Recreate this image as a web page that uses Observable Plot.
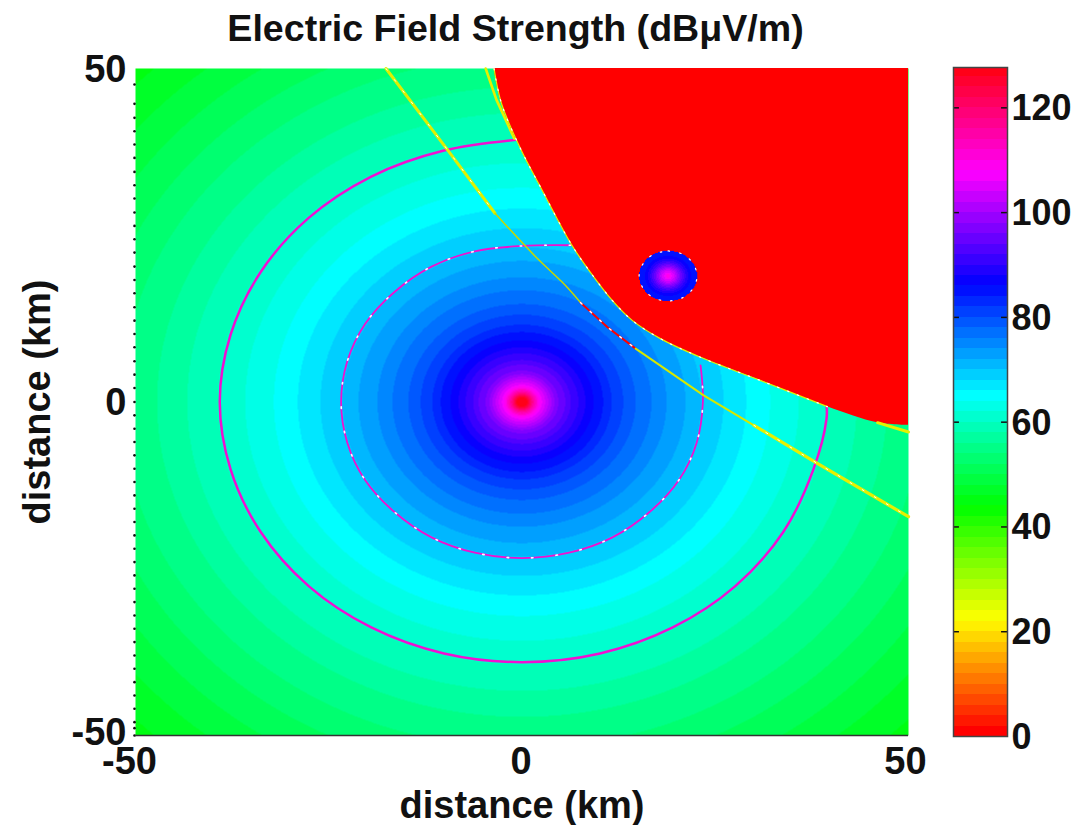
<!DOCTYPE html>
<html>
<head>
<meta charset="utf-8">
<script src="https://cdn.jsdelivr.net/npm/d3@7"></script>
<script src="https://cdn.jsdelivr.net/npm/@observablehq/plot@0.6"></script>
<style>
  html, body { margin: 0; padding: 0; background: #fff; }
  #stage { position: relative; width: 1091px; height: 825px; overflow: hidden; font-family: "Liberation Sans", Arial, sans-serif; }
  #stage svg { position: absolute; top: 0; }
  #title { position: absolute; left: 0; width: 1031px; top: 7px; text-align: center; font-size: 37.6px; line-height: 43px; font-weight: bold; color: #111; white-space: nowrap; }
</style>
</head>
<body>
<div id="stage"><div id="title">Electric Field Strength (dBμV/m)</div></div>
<script>
// Axis and colour-bar ticks
const barTicks = [0, 20, 40, 60, 80, 100, 120];
const leftDots = [-50, -48.9, -48, -46, -44, -42, -40, -38, -36, -34, -32, -30, -28, -26, -24, -22, -20, -18, -16, -14, -12, -10, -8, -6, -4, -2, 0, 2.1, 4.1, 6.1, 8.2, 10.2, 12.2, 14.2, 16.3, 18.3, 20.3, 22.4, 24.4, 26.4, 28.4, 30.5, 32.5, 34.5, 36.6, 38.6, 40.6, 42.6, 44.7, 47.6];

// Colour map: value stops and colours, 2 dB per band
const mapStops = [0, 21.33, 42.67, 64, 85.33, 106.67, 128];
const mapColors = ["#ff0000", "#ffff00", "#00ff00", "#00ffff", "#0000ff", "#ff00ff", "#ff0000"];
const barBands = [0, 2, 4, 6, 8, 10, 12, 14, 16, 18, 20, 22, 24, 26, 28, 30, 32, 34, 36, 38, 40, 42, 44, 46, 48, 50, 52, 54, 56, 58, 60, 62, 64, 66, 68, 70, 72, 74, 76, 78, 80, 82, 84, 86, 88, 90, 92, 94, 96, 98, 100, 102, 104, 106, 108, 110, 112, 114, 116, 118, 120, 122, 124, 126];

// Main transmitter at the origin: outer radius (km) of each band and its level (dB)
const mainOuterRadius = [0.7, 0.85, 1.0, 1.15, 1.3, 1.45, 1.65, 1.85, 2.05, 2.3, 2.6, 3.0, 3.4, 3.8, 4.2, 4.7, 5.6, 6.3, 7.3, 8.2, 9.25, 10.5, 11.6, 13.1, 14.7, 16.75, 18.7, 21.15, 23.2, 26.07, 29, 32.1, 35.8, 39.3, 43.3, 47.2, 51.8, 55.9, 60.2, 64.5, 69, 75];
const mainLevel =       [126, 124, 122, 120, 118, 116, 114, 112, 110, 108, 106, 104, 102, 100, 98, 96, 94, 92, 90, 88, 86, 84, 82, 80, 78, 76, 74, 72, 70, 68, 66, 64, 62, 60, 58, 56, 54, 52, 50, 48, 46, 44];

// Small disk inside the red zone
const diskCentre = [18.9, 18.9];
const diskOuterRadius = [0.25, 0.5, 0.75, 1.0, 1.2, 1.4, 1.6, 1.8, 2.05, 2.3, 2.6, 3.0, 3.75];
const diskLevel =       [108, 106, 104, 102, 100, 98, 96, 94, 92, 90, 88, 86, 84];
const diskRimX = [18.9, 20.8, 22.1, 22.65, 22.1, 20.8, 18.9, 17.0, 15.7, 15.15, 15.7, 17.0, 18.9];
const diskRimY = [22.65, 22.15, 20.8, 18.9, 17.0, 15.65, 15.15, 15.65, 17.0, 18.9, 20.8, 22.15, 22.65];

// Red zone boundary
const redX = [-3.62, -2.65, -0.2, 2.4, 6.3, 8.5, 11.7, 14.3, 17.9, 23.1, 30.9, 39.5, 46, 50];
const redY = [50, 44.75, 38, 32.2, 23.8, 20, 15.2, 12.2, 9.5, 6.7, 3.2, -0.7, -3.1, -3.5];
const redLevel = 0;

// Contour rings
const outerRingX = [-0.8, -10.1, -19.5, -27.6, -33.8, -37.7, -39.1, -37.7, -33.8, -27.6, -19.5, -10.1, 0, 10.1, 19.5, 27.6, 33.8, 37.7, 39.4, 39.4];
const outerRingY = [39.3, 37.7, 33.8, 27.6, 19.5, 10.1, 0, -10.1, -19.5, -27.6, -33.8, -37.7, -39, -37.7, -33.8, -27.6, -19.5, -10.1, -2.5, -0.5];
const innerRingX = [6.3, 0, -6.1, -11.7, -16.5, -20.3, -22.6, -23.4, -22.6, -20.3, -16.5, -11.7, -6.1, 0, 6.1, 11.7, 16.5, 20.3, 22.6, 23.4, 23.1];
const innerRingY = [23.5, 23.4, 22.6, 20.3, 16.5, 11.7, 6.1, 0, -6.1, -11.7, -16.5, -20.3, -22.6, -23.4, -22.6, -20.3, -16.5, -11.7, -6.1, 0, 5.5];

// Yellow path crossing the field, by stretch
const pathNWx = [-17.6, -9.56, -3.5];
const pathNWy = [50, 37.7, 28.3];
const pathMidX = [-3.5, 2.0, 5.6, 7.57];
const pathMidY = [28.3, 21.5, 17.5, 14.9];
const pathRedX = [7.57, 11.06, 14.7];
const pathRedY = [14.9, 11.2, 8.0];
const pathEastX = [14.7, 23.5, 30];
const pathEastY = [8.0, 1.0, -3.5];
const pathSEx = [30, 38.2, 50];
const pathSEy = [-3.5, -9.2, -17.2];
const edgeNx = [-4.7, -3.3, -1];
const edgeNy = [50, 45.3, 39.5];
const edgeEx = [46, 50];
const edgeEy = [-3.1, -4.5];

const pairs = (xs, ys) => xs.map((x, i) => ({x, y: ys[i]}));
const colorScale = {type: "linear", domain: mapStops, range: mapColors, interpolate: "rgb"};
const lookup = (radii, levels, r) => {
  const i = d3.bisectLeft(radii, r);
  return i < levels.length ? levels[i] : levels[levels.length - 1];
};
const font = {fontFamily: "Liberation Sans, Arial, sans-serif", background: "transparent", color: "#111", overflow: "visible"};
const seg = (xs, ys, stroke, strokeWidth, extra = {}) =>
  Plot.line(pairs(xs, ys), {x: "x", y: "y", stroke, strokeWidth, ...extra});
const tickFont = {tickSize: 0, fontSize: 38, fontWeight: "bold", tickFormat: d => String(d), label: null};

const main = Plot.plot({
  width: 1091, height: 825,
  marginLeft: 135, marginRight: 183, marginTop: 68, marginBottom: 90,
  style: font,
  x: {domain: [-50, 50]},
  y: {domain: [-50, 50]},
  color: colorScale,
  marks: [
    Plot.raster({x1: -50, x2: 50, y1: -50, y2: 50, pixelSize: 1,
      fill: (x, y) => lookup(mainOuterRadius, mainLevel, Math.hypot(x, y))}),
    seg(outerRingX, outerRingY, "#f010d0", 2.5, {curve: "catmull-rom"}),
    seg(innerRingX, innerRingY, "#f010d0", 1.8, {curve: "catmull-rom"}),
    seg(innerRingX, innerRingY, "#ffffff", 1.6, {curve: "catmull-rom", strokeDasharray: "1.5 23"}),
    seg(pathNWx, pathNWy, "#dff000", 3),
    seg(pathNWx, pathNWy, "#ffffff", 1, {strokeDasharray: "2 12"}),
    seg(pathMidX, pathMidY, "#c6d800", 1.5, {curve: "catmull-rom"}),
    seg(pathRedX, pathRedY, "#ff0000", 2),
    seg(pathRedX, pathRedY, "#ffffff", 1.5, {strokeDasharray: "2 11"}),
    seg(pathEastX, pathEastY, "#d6e800", 2),
    seg(pathSEx, pathSEy, "#e6f000", 3.2),
    seg(pathSEx, pathSEy, "#ffffff", 1, {strokeDasharray: "2 12"}),
    seg(edgeNx, edgeNy, "#e6f000", 2.6),
    Plot.areaY(pairs(redX, redY), {x: "x", y1: "y", y2: () => 50, fill: () => redLevel, curve: "catmull-rom", clip: true}),
    seg(redX.slice(0, -2), redY.slice(0, -2), "#e0f000", 1.2, {curve: "catmull-rom", clip: true}),
    seg(redX.slice(0, -2), redY.slice(0, -2), "#ffffff", 1.2, {curve: "catmull-rom", clip: true, strokeDasharray: "1.5 9"}),
    seg(edgeEx, edgeEy, "#e6f000", 3),
    Plot.raster({x1: 15, x2: 22.8, y1: 15, y2: 22.8, pixelSize: 1,
      fill: (x, y) => {
        const r = Math.hypot(x - diskCentre[0], y - diskCentre[1]);
        return r <= diskOuterRadius[diskOuterRadius.length - 1] ? lookup(diskOuterRadius, diskLevel, r) : NaN;
      }}),
    seg(diskRimX, diskRimY, "#ffffff", 1.2, {curve: "catmull-rom", strokeDasharray: "1.5 10"}),
    Plot.dot(leftDots, {x: () => -50, y: d => d, r: 1.3, fill: "#111", stroke: null, dx: -1}),
    Plot.ruleY([-50], {stroke: "#333", strokeWidth: 1.5}),
    Plot.axisX({...tickFont, ticks: [-50], tickPadding: 12, dx: -6}),
    Plot.axisX({...tickFont, ticks: [0], tickPadding: 12, dx: -1}),
    Plot.axisX({...tickFont, ticks: [50], tickPadding: 12, dx: -3}),
    Plot.axisX({...tickFont, ticks: [], label: "distance (km)", labelArrow: "none", labelAnchor: "center", labelOffset: 82, dx: -6}),
    Plot.axisY({...tickFont, ticks: [-50], tickPadding: 9, dy: -3}),
    Plot.axisY({...tickFont, ticks: [0, 50], tickPadding: 9, dy: 1}),
    Plot.axisY({...tickFont, ticks: [], label: "distance (km)", labelArrow: "none", labelAnchor: "center", labelOffset: 112, dy: 3})
  ]
});

const bar = Plot.plot({
  width: 151, height: 825,
  marginLeft: 13, marginRight: 84, marginTop: 67, marginBottom: 89,
  style: font,
  x: {domain: [0, 1], axis: null},
  y: {domain: [0, 127.7]},
  color: colorScale,
  marks: [
    Plot.rect(barBands, {x1: 0, x2: 1, y1: d => d, y2: d => Math.min(d + 2, 127.7), fill: d => d, shapeRendering: "crispEdges"}),
    Plot.ruleY(barTicks.slice(1), {x1: 0, x2: 0.11, stroke: "#111", strokeWidth: 1.5}),
    Plot.ruleY(barTicks.slice(1), {x1: 0.89, x2: 1, stroke: "#111", strokeWidth: 1.5}),
    Plot.frame({stroke: "#444", strokeWidth: 1.5}),
    Plot.axisY({...tickFont, fontSize: 36, anchor: "right", ticks: barTicks, tickPadding: 4, dy: 1})
  ]
});
bar.style.left = "940px";

const stage = document.getElementById("stage");
stage.prepend(main);
stage.append(bar);
</script>
</body>
</html>
